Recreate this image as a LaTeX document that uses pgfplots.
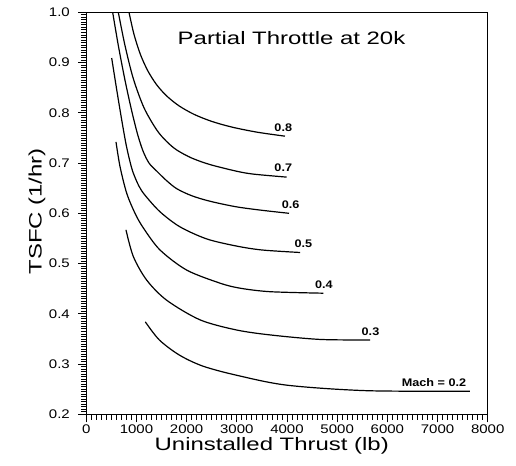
\documentclass[border=0pt]{standalone}
\usepackage{fontspec}
\setmainfont{Liberation Sans}[FakeStretch=1.33]
\newfontfamily\tickfont{Liberation Sans}[FakeStretch=1.2]
\newfontfamily\curvefont{Liberation Sans}[FakeStretch=1.15]
\usepackage{pgfplots}
\pgfplotsset{compat=1.18}

\begin{document}
\begin{tikzpicture}
\useasboundingbox (-86.3bp,-51.7bp) rectangle (429.7bp,414.3bp);
\begin{axis}[
    scale only axis,
    width=401.4bp, height=402bp,
    xmin=0, xmax=8000,
    ymin=0.2, ymax=1.0,
    xtick={0,1000,2000,3000,4000,5000,6000,7000,8000},
    ytick={0.2,0.3,0.4,0.5,0.6,0.7,0.8,0.9,1.0},
    minor x tick num=9,
    minor y tick num=19,
    tick align=outside,
    xtick pos=bottom, ytick pos=left,
    major tick length=8bp, minor tick length=5.5bp,
    every tick/.style={black, line width=0.8bp},
    axis line style={line width=1.3bp},
    scaled x ticks=false,
    /pgf/number format/assume math mode=true,
    tick label style={font=\tickfont\fontsize{12.5bp}{14bp}\selectfont},
    xticklabel style={yshift=1bp, /pgf/number format/1000 sep={}},
    yticklabel style={xshift=-5bp, /pgf/number format/.cd, fixed, fixed zerofill, precision=1},
    label style={font=\fontsize{18bp}{20bp}\selectfont},
    xlabel={Uninstalled Thrust (lb)},
    xlabel style={at={(rel axis cs:0.462,0)}, anchor=base, yshift=-36bp},
    ylabel={TSFC (1/hr)},
    ylabel style={at={(rel axis cs:0,0.505)}, anchor=base, yshift=44.6bp},
    clip=true,
    mach/.style={black, line width=1.2bp, smooth, no markers, solid},
]
% Mach 0.8
\addplot[mach] coordinates {
    (851,1.000) (950,0.9564) (1075,0.9170) (1225,0.8837) (1400,0.8561)
    (1600,0.8337) (1850,0.8137) (2150,0.7968) (2500,0.7829) (2900,0.7716)
    (3400,0.7615) (3960,0.7535)
};
% Mach 0.7
\addplot[mach] coordinates {
    (638,1.000) (771,0.934) (937,0.868) (1150,0.810) (1403,0.766)
    (1600,0.743) (1802,0.726) (2100,0.710) (2465,0.697) (2984,0.684)
    (3328,0.678) (3994,0.672)
};
% Mach 0.6
\addplot[mach] coordinates {
    (526,1.000) (638,0.934) (771,0.865) (900,0.806) (1020,0.758)
    (1130,0.724) (1250,0.700) (1403,0.684) (1600,0.665) (1802,0.649)
    (2100,0.635) (2465,0.624) (2984,0.613) (3500,0.606) (4040,0.600)
};
% Mach 0.5
\addplot[mach] coordinates {
    (506,0.909) (606,0.846) (702,0.788) (791,0.738) (870,0.703)
    (937,0.680) (1050,0.654) (1170,0.636) (1469,0.603) (1868,0.573)
    (2400,0.549) (2984,0.535) (3500,0.527) (4263,0.522)
};
% Mach 0.4
\addplot[mach] coordinates {
    (592,0.742) (672,0.693) (805,0.640) (971,0.600) (1136,0.571)
    (1469,0.527) (2001,0.487) (2665,0.461) (3063,0.451) (3661,0.444)
    (4723,0.441)
};
% Mach 0.3
\addplot[mach] coordinates {
    (791,0.567) (937,0.514) (1204,0.467) (1602,0.427) (2266,0.388)
    (2984,0.368) (3661,0.358) (4658,0.349) (5655,0.348)
};
% Mach 0.2
\addplot[mach] coordinates {
    (1176,0.384) (1455,0.348) (1853,0.318) (2320,0.296) (2984,0.278)
    (3994,0.258) (5588,0.247) (7647,0.246)
};

\node[anchor=base, font=\fontsize{18bp}{20bp}\selectfont] at (axis cs:4090,0.935) {Partial Throttle at 20k};
\begin{scope}[every node/.style={font=\curvefont\bfseries\fontsize{11bp}{12bp}\selectfont}]
\node at (axis cs:3926,0.771) {0.8};
\node at (axis cs:3926,0.690) {0.7};
\node at (axis cs:4074,0.6165) {0.6};
\node at (axis cs:4325,0.539) {0.5};
\node at (axis cs:4735,0.457) {0.4};
\node at (axis cs:5664,0.364) {0.3};
\node[anchor=east] at (axis cs:7640,0.263) {Mach = 0.2};
\end{scope}
\end{axis}
\end{tikzpicture}
\end{document}
